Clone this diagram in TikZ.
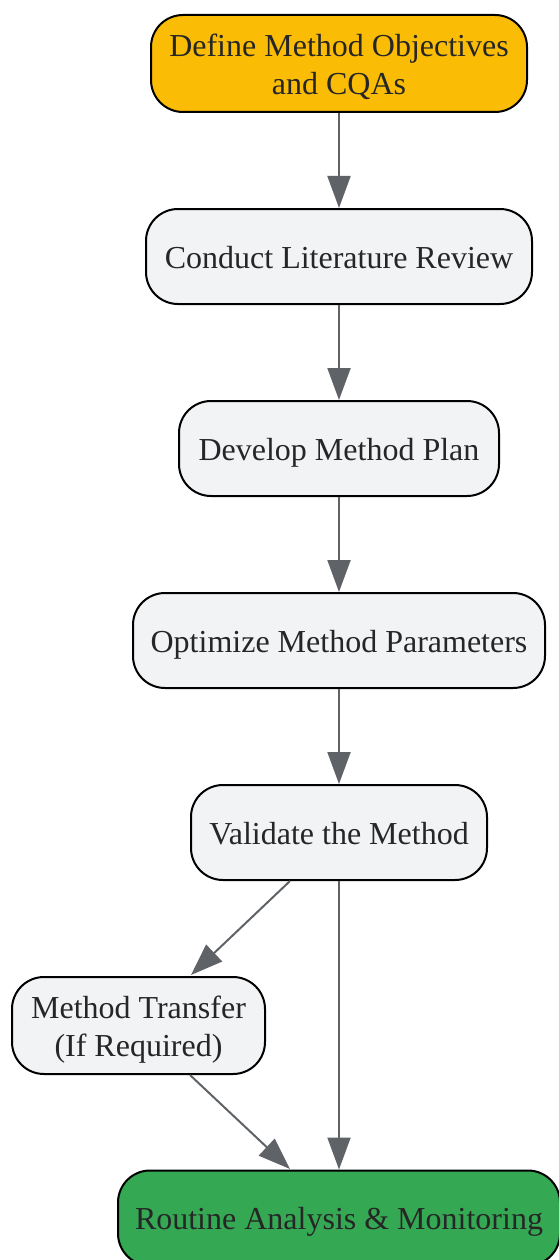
\documentclass[tikz,border=0pt]{standalone}
\usepackage{fontspec}
\setmainfont{Liberation Serif}
\usetikzlibrary{arrows.meta}
\definecolor{yel}{HTML}{FBBC05}
\definecolor{grn}{HTML}{34A853}
\definecolor{gfill}{HTML}{F1F3F4}
\definecolor{arr}{HTML}{5F6368}
\definecolor{txt}{HTML}{262626}
\newcommand{\lw}[1]{\raisebox{-4.2pt}[\height][\depth]{\begin{tabular}{@{}c@{}}#1\end{tabular}}}
\tikzset{
  box/.style={draw=black, line width=2pt, rounded corners=32pt, fill=gfill, align=center,
    inner sep=0pt, text=txt, font=\fontsize{32}{38}\selectfont},
  conn/.style={draw=arr, line width=2pt, -{Triangle[length=32pt,width=23pt]}}
}
\begin{document}
\begin{tikzpicture}[x=1pt,y=-1pt]
\useasboundingbox (0,0) rectangle (558,1260);
\node[box, fill=yel, minimum width=376pt, minimum height=97pt] (a) at (339,63.5) {\lw{Define Method Objectives\\and CQAs}};
\node[box, minimum width=386pt, minimum height=95pt] (b) at (339,256.5) {\lw{Conduct Literature Review}};
\node[box, minimum width=320pt, minimum height=95pt] (c) at (339,448.5) {\lw{Develop Method Plan}};
\node[box, minimum width=412pt, minimum height=95pt] (d) at (339,640.5) {\lw{Optimize Method Parameters}};
\node[box, minimum width=296pt, minimum height=95pt] (e) at (339,832.5) {\lw{Validate the Method}};
\node[box, minimum width=253pt, minimum height=97pt] (f) at (138.5,1025.5) {\lw{Method Transfer\\(If Required)}};
\node[box, fill=grn, minimum width=442pt, minimum height=95pt] (g) at (339,1218) {\lw{Routine Analysis \& Monitoring}};
\coordinate (e1) at (290,881);
\coordinate (f1) at (191,975);
\coordinate (f2) at (190,1075);
\coordinate (g1) at (290,1169);
\draw[conn] (a.south) -- (b.north);
\draw[conn] (b.south) -- (c.north);
\draw[conn] (c.south) -- (d.north);
\draw[conn] (d.south) -- (e.north);
\draw[conn] (e1) -- (f1);
\draw[conn] (e.south) -- (g.north);
\draw[conn] (f2) -- (g1);
\end{tikzpicture}
\end{document}
